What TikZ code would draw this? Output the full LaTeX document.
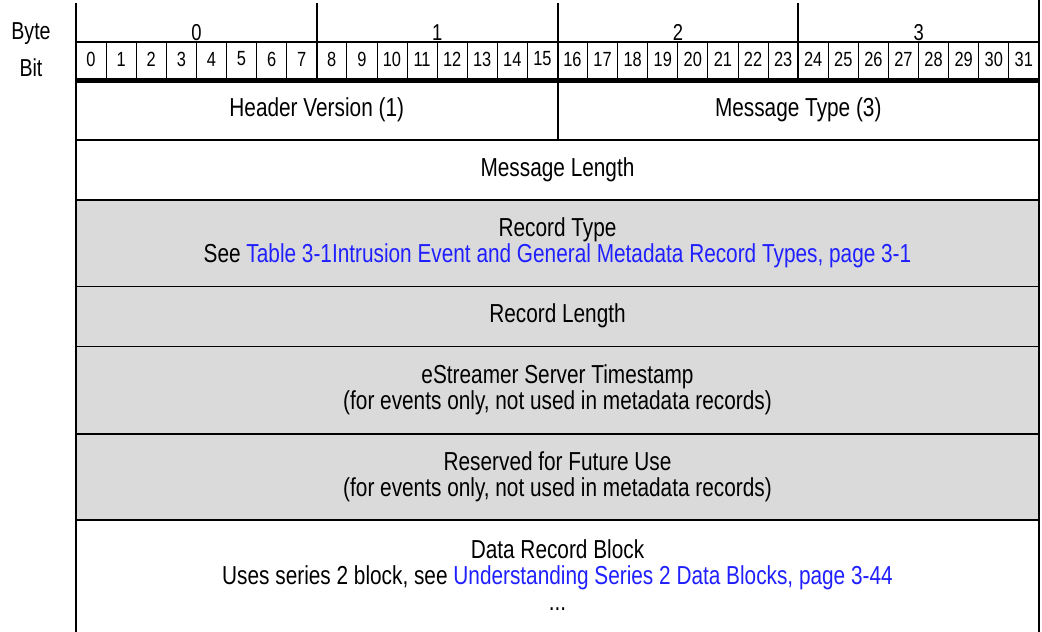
\documentclass[tikz,border=0pt]{standalone}
\usepackage{fontspec}
\setmainfont{Liberation Sans}[FakeStretch=0.8]
\definecolor{rowgray}{HTML}{DADADA}
\definecolor{linkblue}{HTML}{1F1FFF}
\newcommand{\lnk}[1]{\textcolor{linkblue}{#1}}

\begin{document}
\begin{tikzpicture}[x=1pt,y=-1pt,
  field/.style={font=\fontsize{26}{25.7}\selectfont, align=center, inner sep=0pt},
  bitnum/.style={font=\fontsize{20.5}{21}\selectfont, inner sep=0pt},
  bytenum/.style={font=\fontsize{23}{24}\selectfont, inner sep=0pt}]
\useasboundingbox (0,0) rectangle (1042,632);
% shaded record header rows
\fill[rowgray] (76,200) rectangle (1039,520);
% left labels
\node[bytenum, anchor=base, font=\fontsize{24.5}{25}\selectfont] (byte) at (31,39) {Byte};
\node[bytenum, anchor=base, font=\fontsize{24.5}{25}\selectfont] (bit) at (31,76) {Bit};
% byte and bit numbers
\foreach \b in {0,...,3}
  \node[bytenum, anchor=base] (byte\b) at ({76+240.75*\b+120.375},40) {\b};
\foreach \i in {0,...,31}
  \node[bitnum] (bit\i) at ({76+30.09*\i+15.05},59) {\i};
% bit ruler
\draw[line width=1.5] (76,42) -- (1039,42);
\foreach \i in {1,...,31}
  \draw[line width=0.8] ({76+30.09*\i},42) -- ({76+30.09*\i},80);
\foreach \b in {1,2,3}
  \draw[line width=2] ({76+240.75*\b},3) -- ({76+240.75*\b},80);
\draw[line width=5] (76,80) -- (1039,80);
% fields
\node[field] (hdrver) at (316.75,110) {Header Version (1)};
\node[field] (msgtype) at (798.25,110) {Message Type (3)};
\node[field] (msglen) at (557.5,170) {Message Length};
\node[field] (rectype) at (557.5,243) {Record Type\\See \lnk{Table 3-1Intrusion Event and General Metadata Record Types, page 3-1}};
\node[field] (reclen) at (557.5,316) {Record Length};
\node[field] (tstamp) at (557.5,390) {eStreamer Server Timestamp\\(for events only, not used in metadata records)};
\node[field] (reserved) at (557.5,477) {Reserved for Future Use\\(for events only, not used in metadata records)};
\node[field] (datablk) at (557.5,575) {Data Record Block\\Uses series 2 block, see \lnk{Understanding Series 2 Data Blocks, page 3-44}\\...};
% row borders
\draw[line width=2] (557.5,80) -- (557.5,140);
\foreach \y/\w in {140/2,200/2,286/1,346/1,434/2,520/2}
  \draw[line width=\w] (76,\y) -- (1039,\y);
\draw[line width=2] (76,3) -- (76,632);
\draw[line width=2] (1039,0) -- (1039,632);
\end{tikzpicture}
\end{document}
